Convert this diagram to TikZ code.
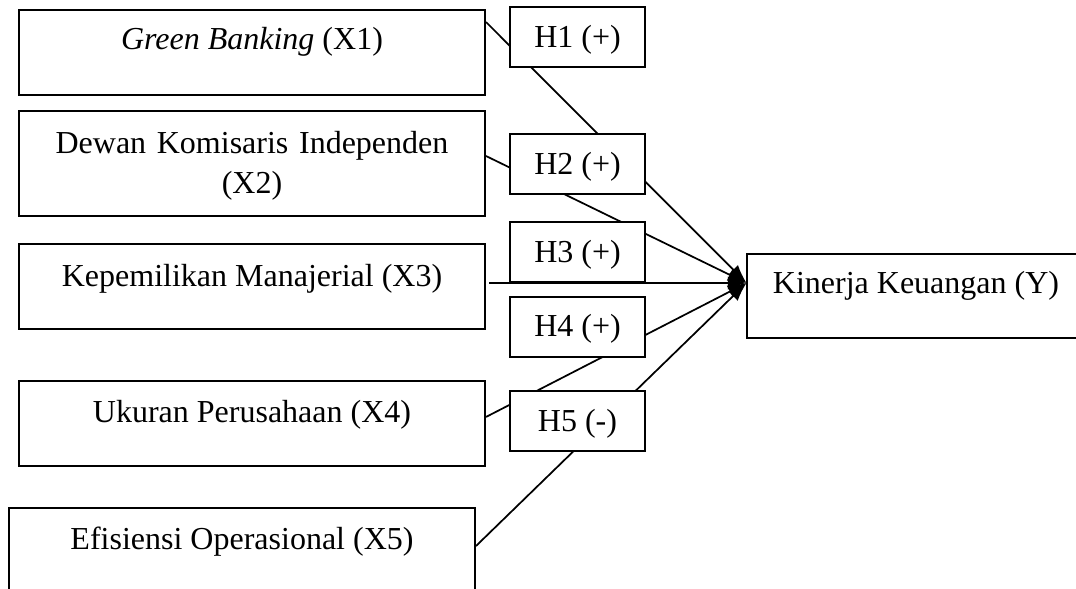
\documentclass[tikz,border=0pt]{standalone}
\usepackage{fontspec}
\setmainfont{Liberation Serif}
\usetikzlibrary{arrows.meta}
\begin{document}
\begin{tikzpicture}[x=0.75pt,y=-0.75pt,
  txtfont/.style={font=\fontsize{24}{30}\selectfont},
  box/.style={draw,line width=1.5pt,inner sep=0pt,minimum width=349.5pt,minimum height=63.75pt},
  lbl/.style={txtfont,anchor=base,inner sep=0pt},
  hbox/.style={draw,line width=1.5pt,fill=white,txtfont,inner xsep=0pt,inner ysep=0pt,
    minimum width=101.25pt,text height=30pt,text depth=15pt},
  conn/.style={line width=1.3pt,-{Latex[length=14pt,width=10pt]}}]
\useasboundingbox (0,0) rectangle (1076,589);
\fill[white] (0,0) rectangle (1076,589);
\clip (0,0) rectangle (1076,589);

% variable boxes
\node[box] (x1) at (252,52.5) {};
\node[box,minimum height=78.75pt] (x2) at (252,163.5) {};
\node[box] (x3) at (252,286.5) {};
\node[box] (x4) at (252,423.5) {};
\node[box,minimum height=99pt] (x5) at (242,574) {};
\node[box,minimum width=254.25pt,minimum height=63pt] (y) at (916,296) {};

% texts
\node[lbl] (t1) at (252,50) {\textit{Green Banking} (X1)};
\node[lbl,text width=349.5pt,align=center] (t2) at (252,153) {Dewan Komisaris Independen\\(X2)};
\node[lbl] (t3) at (252,286) {Kepemilikan Manajerial (X3)};
\node[lbl] (t4) at (252,422) {Ukuran Perusahaan (X4)};
\node[lbl] (t5) at (242,549) {Efisiensi Operasional (X5)};
\node[lbl] (ty) at (916,293) {Kinerja Keuangan (Y)};

\coordinate (tip) at ([xshift=0.75pt,yshift=9.75pt]y.west);

% connectors
\draw[conn] ([yshift=-9.75pt]x1.north east) -- (tip);
\draw[conn] ([yshift=-34.5pt]x2.north east) -- (tip);
\draw[conn] ([xshift=2.25pt,yshift=2.6pt]x3.east) -- (tip);
\draw[conn] ([yshift=4.9pt]x4.east) -- (tip);
\draw[conn] ([yshift=-29.25pt]x5.north east) -- (tip);

% hypothesis boxes
\node[hbox] (h1) at (577.5,37) {H1 (+)};
\node[hbox] (h2) at (577.5,164) {H2 (+)};
\node[hbox] (h3) at (577.5,252) {H3 (+)};
\node[hbox] (h4) at (577.5,326.5) {H4 (+)};
\node[hbox] (h5) at (577.5,421) {H5 (-)};
\end{tikzpicture}
\end{document}
